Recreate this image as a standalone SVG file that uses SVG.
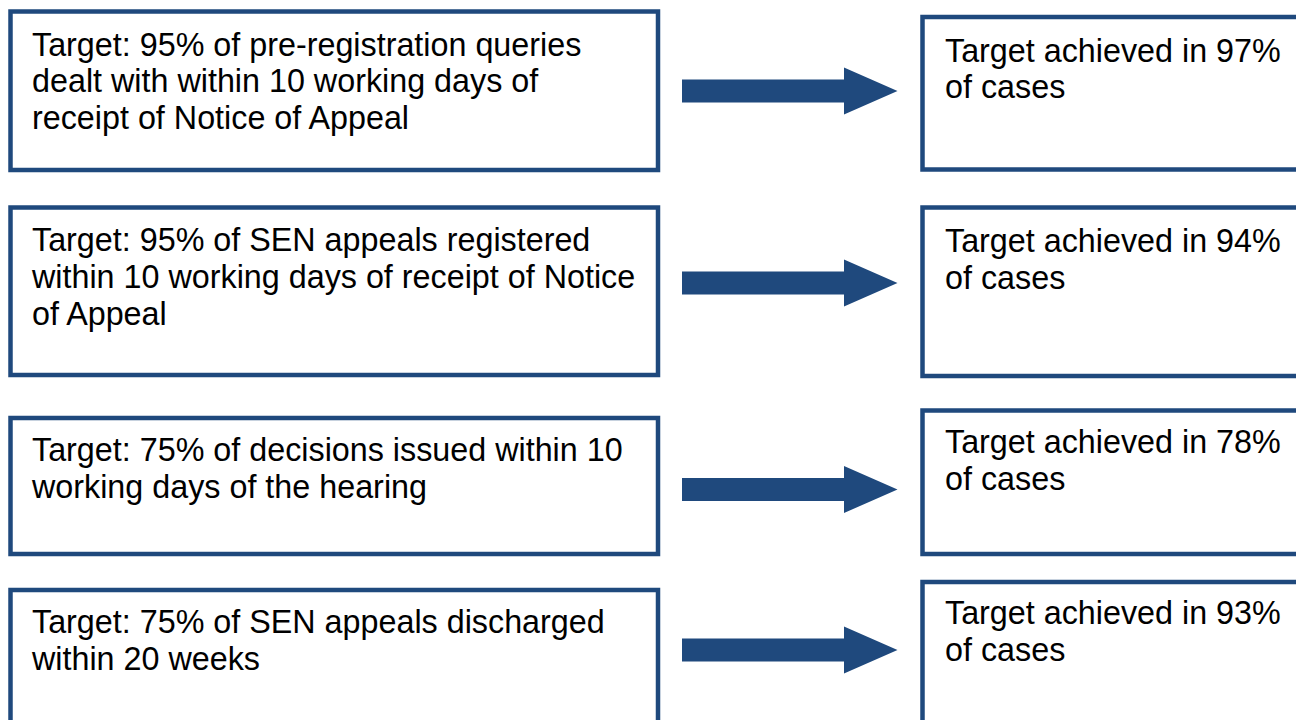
<svg xmlns="http://www.w3.org/2000/svg" width="1296" height="720" viewBox="0 0 1296 720">
  <style>
    .box { fill: #ffffff; stroke: #1F497D; stroke-width: 4.5; }
    .txt { font-family: "Liberation Sans", Arial, sans-serif; font-size: 32.3px; fill: #000000; }
    .arrow { fill: #1F497D; }
  </style>
  <rect width="1296" height="720" fill="#ffffff"/>
  <g id="target1">
    <rect class="box" x="10.5" y="11.5" width="647.5" height="158.5"/>
    <text class="txt" x="32" y="55.5">Target: 95% of pre-registration queries</text>
    <text class="txt" x="32" y="92">dealt with within 10 working days of</text>
    <text class="txt" x="32" y="128.5">receipt of Notice of Appeal</text>
  </g>
  <g id="target2">
    <rect class="box" x="10.5" y="207.5" width="647.5" height="167.5"/>
    <text class="txt" x="32" y="250.5">Target: 95% of SEN appeals registered</text>
    <text class="txt" x="32" y="287.5">within 10 working days of receipt of Notice</text>
    <text class="txt" x="32" y="324.5">of Appeal</text>
  </g>
  <g id="target3">
    <rect class="box" x="10.5" y="418" width="647.5" height="136"/>
    <text class="txt" x="32" y="460.5">Target: 75% of decisions issued within 10</text>
    <text class="txt" x="32" y="497.5">working days of the hearing</text>
  </g>
  <g id="target4">
    <rect class="box" x="10.5" y="590" width="647.5" height="160"/>
    <text class="txt" x="32" y="632.5">Target: 75% of SEN appeals discharged</text>
    <text class="txt" x="32" y="669.5">within 20 weeks</text>
  </g>
  <g id="result1">
    <rect class="box" x="922.5" y="17" width="400" height="152.5"/>
    <text class="txt" x="945" y="61.5">Target achieved in 97%</text>
    <text class="txt" x="945" y="97.5">of cases</text>
  </g>
  <g id="result2">
    <rect class="box" x="922.5" y="207.5" width="400" height="168.5"/>
    <text class="txt" x="945" y="251.5">Target achieved in 94%</text>
    <text class="txt" x="945" y="288.5">of cases</text>
  </g>
  <g id="result3">
    <rect class="box" x="922.5" y="410.5" width="400" height="143.5"/>
    <text class="txt" x="945" y="452.5">Target achieved in 78%</text>
    <text class="txt" x="945" y="489.5">of cases</text>
  </g>
  <g id="result4">
    <rect class="box" x="922.5" y="582" width="400" height="170"/>
    <text class="txt" x="945" y="623.5">Target achieved in 93%</text>
    <text class="txt" x="945" y="660.5">of cases</text>
  </g>
  <g id="connectors">
    <polygon class="arrow" points="682,79.5 844,79.5 844,67.5 897.5,91 844,114.5 844,102.5 682,102.5"/>
    <polygon class="arrow" points="682,271.5 844,271.5 844,259.5 897.5,283 844,306.5 844,294.5 682,294.5"/>
    <polygon class="arrow" points="682,478 844,478 844,466 897.5,489.5 844,513 844,501 682,501"/>
    <polygon class="arrow" points="682,638.5 844,638.5 844,626.5 897.5,650 844,673.5 844,661.5 682,661.5"/>
  </g>
</svg>
